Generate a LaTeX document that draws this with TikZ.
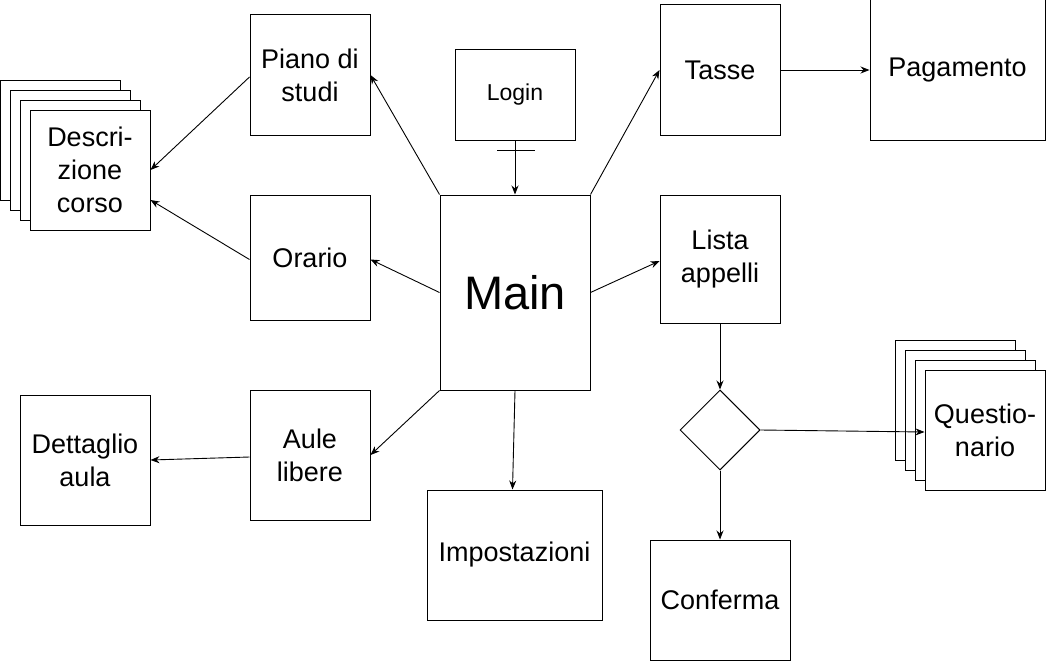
\documentclass[tikz,border=0pt]{standalone}
\usepackage{fontspec}
\setmainfont{Liberation Sans}
\usetikzlibrary{shapes.geometric,arrows.meta}
\begin{document}
\begin{tikzpicture}[x=1pt,y=-1pt,
  box/.style={draw,line width=1pt,fill=white,align=center,inner sep=0pt,font=\fontsize{27}{33}\selectfont},
  conn/.style={line width=0.9pt,-{Stealth[length=9pt,width=7pt]}}]
\useasboundingbox (0,0) rectangle (1046,661);
% Descrizione stack
\foreach \i in {0,1,2}{
  \draw[line width=1pt,fill=white] (0+10*\i,80+10*\i) rectangle ++(120,120);
}
\node[box,minimum width=120pt,minimum height=120pt] (desc) at (90,170) {Descri-\\zione\\corso};
% Questionario stack
\foreach \i in {0,1,2}{
  \draw[line width=1pt,fill=white] (895+10*\i,340+10*\i) rectangle ++(120,120);
}
\node[box,minimum width=120pt,minimum height=120pt] (quest) at (985,430) {Questio-\\nario};
\node[box,minimum width=120pt,minimum height=120pt] (piano) at (310,75) {Piano di\\studi};
\node[box,minimum width=120pt,minimum height=90pt,font=\fontsize{23}{28}\selectfont] (login) at (515,95) {Login};
\node[box,minimum width=150pt,minimum height=195pt,font=\fontsize{47}{56}\selectfont] (main) at (515,292.5) {Main};
\node[box,minimum width=120pt,minimum height=130pt] (tasse) at (720,70) {Tasse};
\node[box,minimum width=175pt,minimum height=140pt] (pag) at (957.5,70) {Pagamento};
\node[box,minimum width=120pt,minimum height=125pt] (orario) at (310,257.5) {Orario};
\node[box,minimum width=120pt,minimum height=128pt] (lista) at (720,259) {Lista\\appelli};
\node[box,minimum width=120pt,minimum height=130pt] (aule) at (310,455) {Aule\\libere};
\node[box,minimum width=130pt,minimum height=130pt] (dett) at (85,460) {Dettaglio\\aula};
\node[box,minimum width=175pt,minimum height=130pt] (imp) at (514.5,555) {Impostazioni};
\node[draw,line width=1pt,diamond,minimum width=80pt,minimum height=80pt,inner sep=0pt,aspect=1] (dia) at (720,430) {};
\node[box,minimum width=140pt,minimum height=120pt] (conf) at (720,600) {Conferma};
% connectors
\draw[conn] (main.north west) -- (piano.east);
\draw[conn] (main.west) -- ([yshift=-2pt]orario.east);
\draw[conn] (main.south west) -- (aule.east);
\draw[conn] (main.south) -- ([xshift=-2pt]imp.north);
\draw[conn] (main.north east) -- (tasse.west);
\draw[conn] (main.east) -- ([yshift=-2pt]lista.west);
\draw[conn] (login.south) -- (main.north);
\draw[line width=0.9pt] ([xshift=-18pt,yshift=-10pt]login.south) -- ([xshift=20pt,yshift=-10pt]login.south);
\draw[conn] (tasse.east) -- (pag.west);
\draw[conn] ([yshift=-2pt]piano.west) -- (desc.east);
\draw[conn] ([yshift=-2pt]orario.west) -- ([yshift=-30pt]desc.east);
\draw[conn] ([yshift=-2pt]aule.west) -- (dett.east);
\draw[conn] (lista.south) -- (dia.north);
\draw[conn] (dia.east) -- ([yshift=-2pt]quest.west);
\draw[conn] (dia.south) -- (conf.north);
\end{tikzpicture}
\end{document}
